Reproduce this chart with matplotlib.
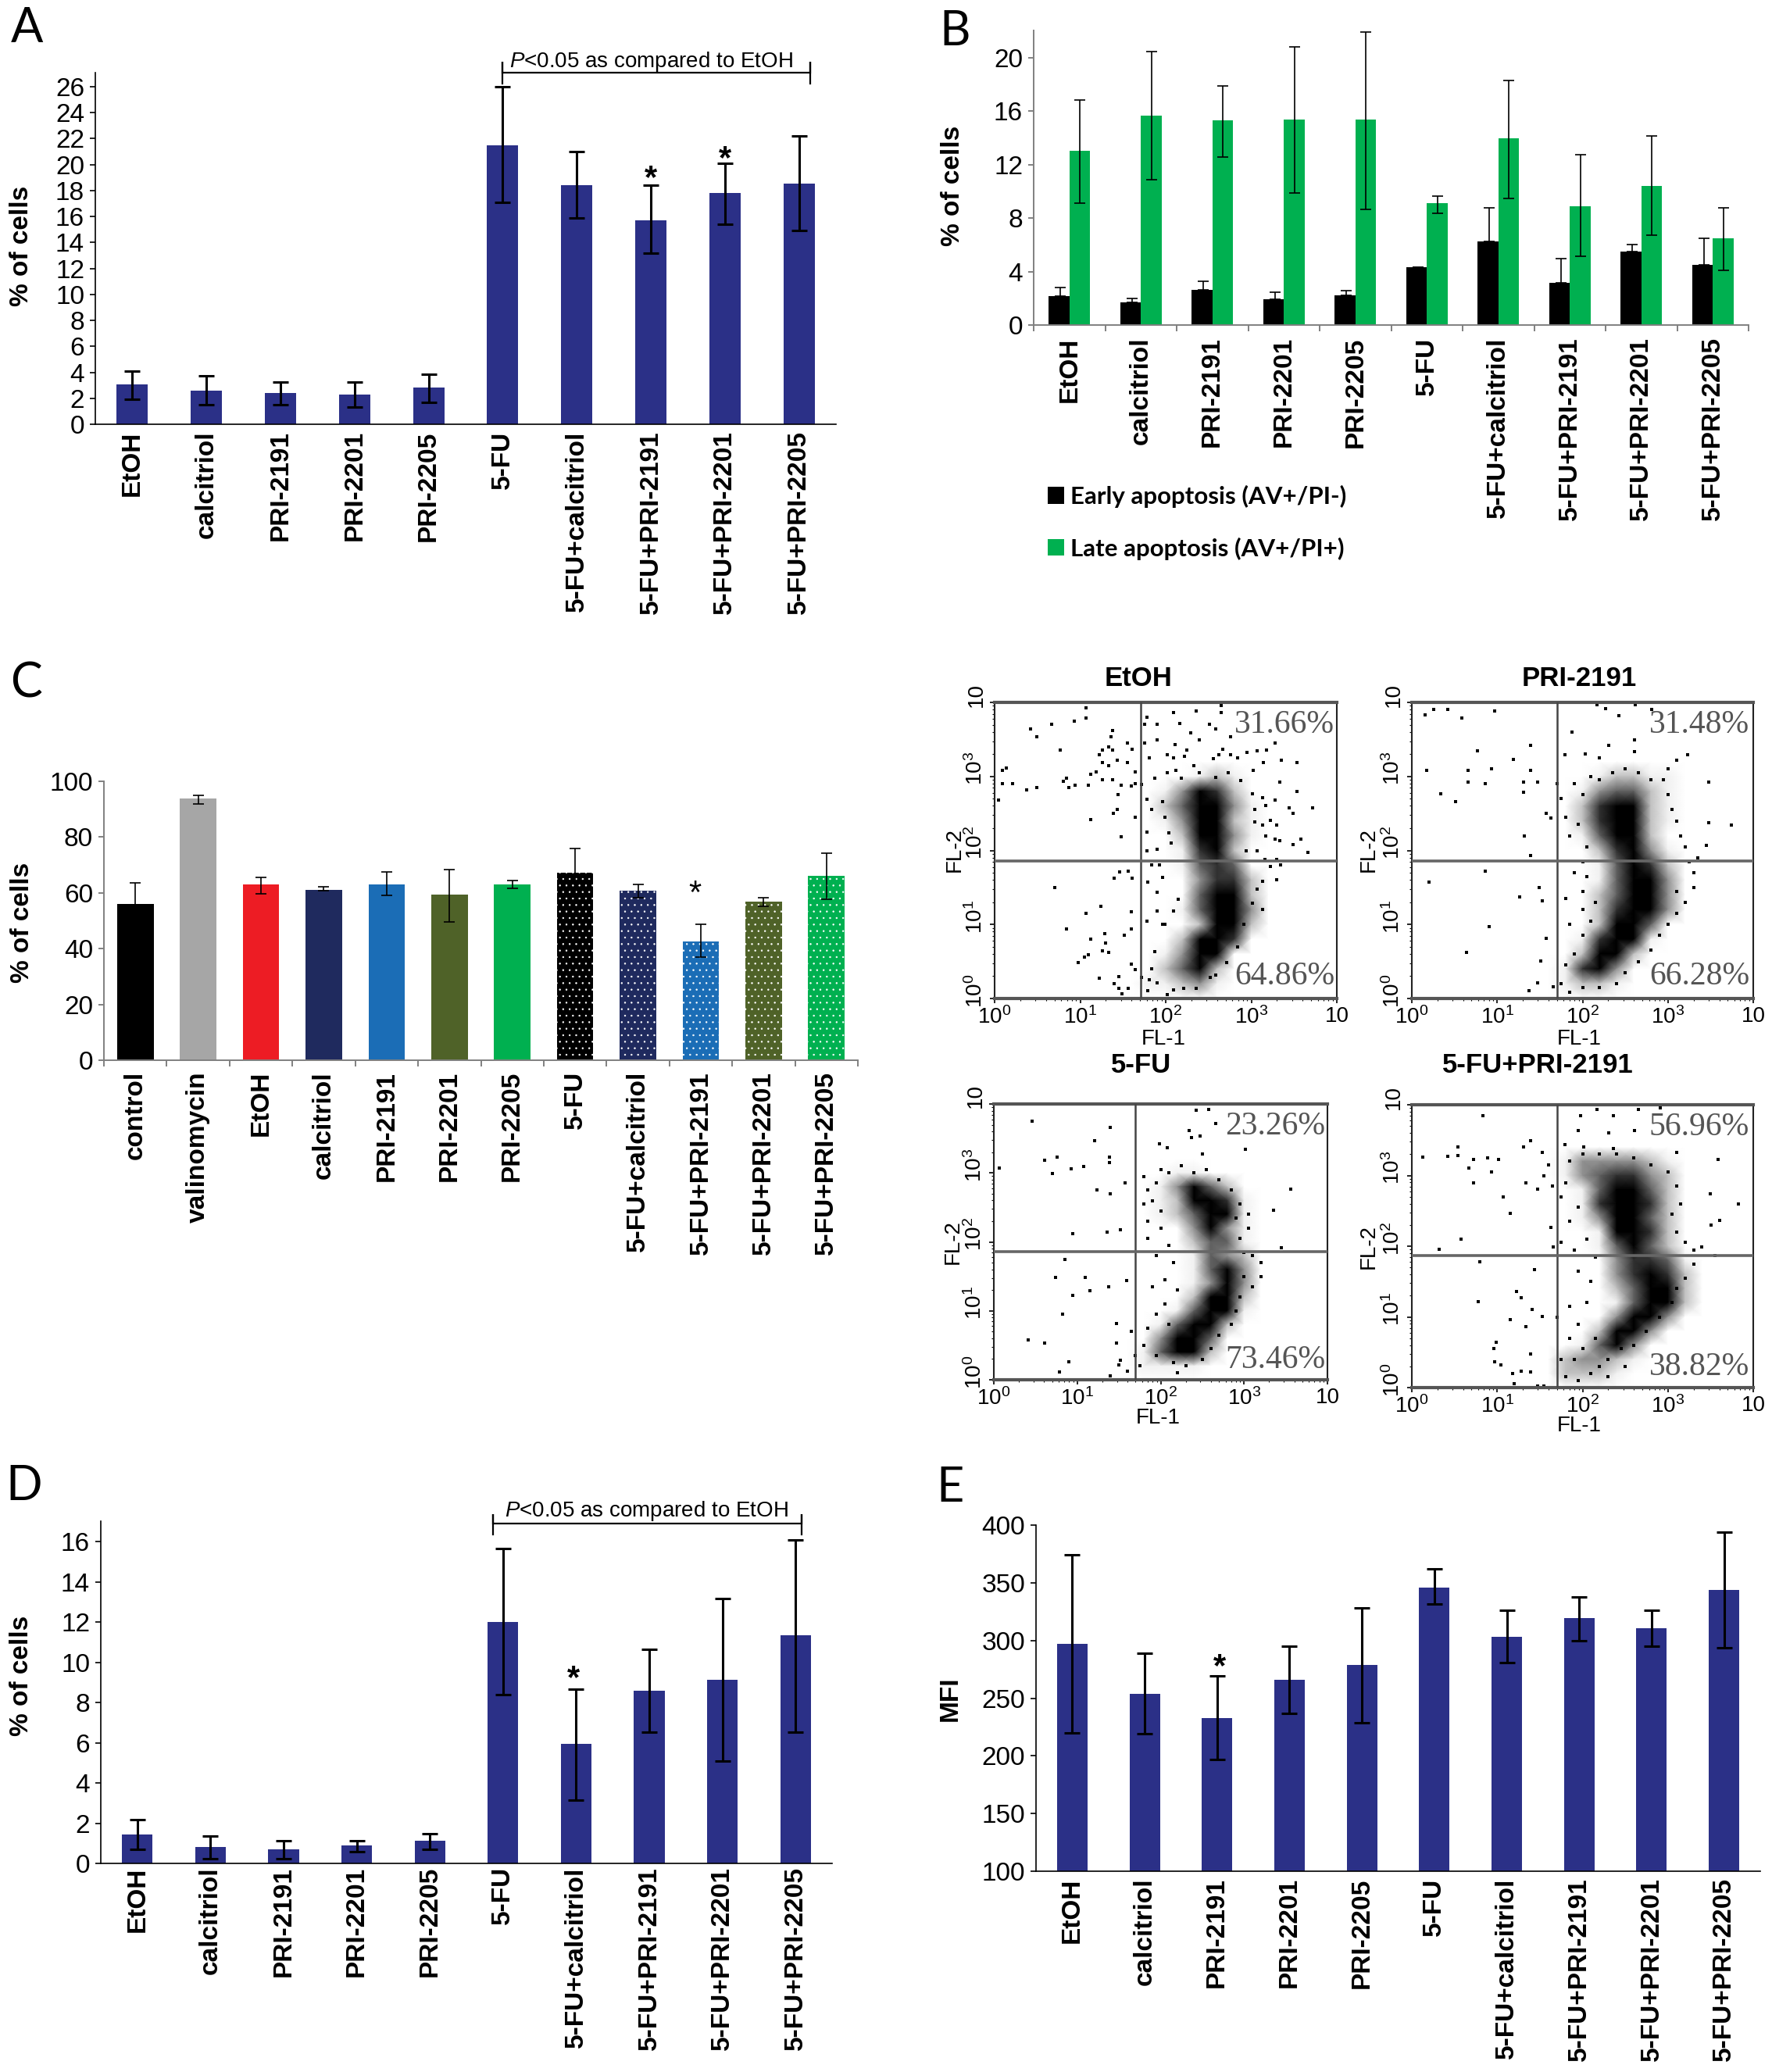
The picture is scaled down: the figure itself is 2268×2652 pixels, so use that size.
#!/usr/bin/env python3
"""Multi panel figure: apoptosis and cell cycle bars plus four FL-1/FL-2 dot plots."""

import numpy as np
import matplotlib
matplotlib.use("Agg")
import matplotlib.pyplot as plt
from matplotlib.colors import Normalize
from matplotlib.ticker import FixedLocator, LogLocator, NullFormatter
from matplotlib.transforms import ScaledTranslation

W, H = 2268, 2652
BLUE = "#2B3087"

plt.rcParams["font.family"] = ["Liberation Sans", "DejaVu Sans"]
plt.rcParams["mathtext.fontset"] = "custom"
plt.rcParams["mathtext.rm"] = "Liberation Sans"
plt.rcParams["mathtext.it"] = "Liberation Sans:italic"
plt.rcParams["mathtext.bf"] = "Liberation Sans:bold"
plt.rcParams["hatch.linewidth"] = 0.5

labels_10 = ["EtOH", "calcitriol", "PRI-2191", "PRI-2201", "PRI-2205", "5-FU",
             "5-FU+calcitriol", "5-FU+PRI-2191", "5-FU+PRI-2201", "5-FU+PRI-2205"]
labels_c = ["control", "valinomycin"] + labels_10

# panel A
a_vals = [3.05, 2.6, 2.4, 2.3, 2.85, 21.5, 18.4, 15.7, 17.8, 18.5]
a_top = [4.07, 3.7, 3.25, 3.25, 3.85, 26.0, 21.0, 18.4, 20.1, 22.2]
a_bot = [1.9, 1.5, 1.5, 1.3, 1.7, 17.1, 15.9, 13.15, 15.4, 14.9]

# panel B
b_early = [2.15, 1.7, 2.65, 1.95, 2.2, 4.3, 6.25, 3.15, 5.5, 4.5]
b_early_top = [2.83, 2.0, 3.3, 2.45, 2.6, 4.35, 8.8, 5.0, 6.0, 6.5]
b_late = [13.05, 15.7, 15.3, 15.4, 15.4, 9.15, 14.0, 8.9, 10.4, 6.5]
b_late_top = [16.85, 20.45, 17.9, 20.85, 21.95, 9.65, 18.3, 12.75, 14.15, 8.8]
b_late_bot = [9.1, 10.9, 12.6, 9.9, 8.65, 8.35, 9.5, 5.15, 6.75, 4.1]

# panel C
c_vals = [56, 93.7, 62.9, 61.1, 63.1, 59.4, 63.1, 67.3, 60.7, 42.7, 57, 66.1]
c_top = [63.7, 94.9, 65.6, 62.1, 67.6, 68.4, 64.4, 76, 63.1, 48.7, 58.3, 74.1]
c_bot = [48.3, 92, 59.6, 60.7, 59, 49.6, 61.6, 58.6, 58.4, 36.9, 55.3, 57.7]
c_colors = ["black", "#A6A6A6", "#ED1C24", "#1F2A5E", "#1B6DB6", "#4F6228", "#00B050",
            "black", "#1F2A5E", "#1B6DB6", "#4F6228", "#00B050"]
c_dotted = [False] * 7 + [True] * 5

# panel D
d_vals = [1.45, 0.83, 0.7, 0.9, 1.12, 12.0, 5.94, 8.58, 9.15, 11.33]
d_top = [2.17, 1.35, 1.12, 1.12, 1.48, 15.65, 8.65, 10.65, 13.17, 16.1]
d_bot = [0.7, 0.25, 0.25, 0.6, 0.7, 8.38, 3.15, 6.54, 5.08, 6.54]

# panel E
e_vals = [297, 254, 232.5, 266, 279, 346, 303, 319.5, 310.4, 344]
e_top = [374, 289, 269, 295, 328.5, 362, 326, 337.5, 326, 393.6]
e_bot = [220, 219, 197, 236.6, 228.5, 331.5, 281, 299.7, 295, 294]

# dot plots: darkness (0-9) read off the dense regions, top row is log10 FL-2 = 3.6,
# rows step 0.2 down to 0, columns are log10 FL-1 = 1.4 to 3.4 in steps of 0.2
density_x = [1.4, 1.6, 1.8, 2.0, 2.2, 2.4, 2.6, 2.8, 3.0, 3.2, 3.4]
density_y = [3.6, 3.4, 3.2, 3.0, 2.8, 2.6, 2.4, 2.2, 2.0, 1.8, 1.6, 1.4, 1.2, 1.0, 0.8, 0.6, 0.4, 0.2, 0.0]

etoh_density = ["00000000000", "00000000000", "00000000000", "00000121000", "00013652000",
                "00024873100", "00013882100", "00002673100", "00001562000", "00001454000",
                "00000355200", "00000466200", "00001488300", "00000298200", "00002895000",
                "00013970000", "00024820000", "00112310000", "00000000000"]
pri_density = ["00000000000", "00000000000", "00000000000", "00001221100", "00013442100",
               "00025862100", "00025972100", "00014862000", "00002563100", "00001465200",
               "00001466300", "00002466300", "00002587300", "00002794000", "00015971000",
               "00028820000", "00156300000", "00122100000", "00000000000"]
fu_density = ["00000000000", "00000000000", "00000000000", "00001100000", "00013642000",
              "00012665100", "00012476100", "00000363100", "00000244100", "00000143200",
              "00000146300", "00000138300", "00000269200", "00001498100", "00014992000",
              "00039940000", "00146620000", "00111100000", "00000000000"]
fupri_density = ["00000000000", "00000000000", "00133332100", "00134553200", "00014884200",
                 "00015985200", "00013984200", "00001785200", "00001464200", "00000355410",
                 "00000357520", "00000247720", "00000148620", "00000397300", "00002893000",
                 "00014630000", "00233210000", "00222100000", "00000000000"]

# single events outside the dense regions, (log10 FL-1, log10 FL-2)
etoh_events = [
    (.42, 3.64), (.49, 3.54), (.67, 3.70), (.93, 3.75), (1.07, 3.79), (1.07, 3.93), (.77, 3.36), (.09, 3.08),
    (.14, 3.11), (.09, 2.9), (.21, 2.9), (.37, 2.82), (.49, 2.85), (.05, 2.68), (.8, 2.93), (.84, 2.98),
    (.87, 2.85), (.94, 2.88), (1.1, 2.88), (1.12, 3.03), (1.19, 3.06), (1.22, 3.29), (1.26, 3.36), (1.33, 3.4),
    (1.38, 3.36), (1.36, 3.54), (1.38, 3.62), (1.55, 3.45), (1.61, 3.37), (1.26, 3.19), (1.33, 3.14), (1.43, 3.22),
    (1.55, 3.19), (1.26, 2.96), (1.38, 2.96), (1.48, 2.88), (1.64, 3.06), (1.64, 2.9), (1.43, 2.55), (1.39, 2.5),
    (1.12, 2.42), (1.64, 2.45), (1.48, 2.18), (.7, 1.5), (1.46, 1.71), (1.4, 1.63), (1.56, 1.72), (1.61, 1.63),
    (1.24, 1.25), (1.07, 1.15), (1.6, 1.17), (.84, .94), (1.29, .88), (1.12, .8), (1.52, .86), (1.6, .94),
    (1.3, .75), (1.26, .64), (1.33, .62), (1.1, .59), (1.05, .56), (.98, .49), (1.22, .27), (1.45, .3),
    (1.4, .2), (1.45, .14), (1.49, .06), (1.56, .14), (1.64, .39), (1.6, .46), (1.78, 1.04), (3.44, 2.58),
    (3.49, 2.5), (3.72, 2.58), (3.58, 2.15), (3.49, 2.08), (3.66, 1.97), (3.53, 3.19), (3.53, 2.8), (3.28, 2.68),
    (3.33, 2.92), (3.35, 3.22), (3.28, 3.45), (3.07, 3.35), (2.95, 3.32), (3.18, 3.36), (2.36, 3.88), (2.65, 3.96),
    (2.65, 3.86), (2.09, 3.86), (2.16, 3.72), (2.51, 3.7), (2.58, 3.64), (2.29, 3.59), (2.39, 3.49), (2.76, 3.54),
    (1.9, 3.49), (1.75, 3.45), (1.9, 3.7), (1.78, 3.8), (1.75, 3.7), (2.11, 3.43), (2.25, 3.36), (2.02, 3.29),
    (2.67, 3.37), (2.76, 3.29), (2.62, 3.29), (1.81, 3.25), (2.09, 3.25), (2.22, 3.27), (2.56, 3.24), (2.84, 3.25),
    (3.02, 3.08), (3.14, 3.19),
]
pri_events = [
    (.16, 3.83), (.26, 3.91), (.42, 3.9), (.59, 3.79), (.97, 3.88), (.77, 3.35), (1.39, 3.42), (1.19, 3.23),
    (.66, 3.08), (.17, 3.08), (.93, 3.1), (.66, 2.92), (.86, 2.9), (.34, 2.76), (.51, 2.66), (1.39, 3.08),
    (1.31, 2.92), (1.47, 2.92), (1.31, 2.79), (1.57, 2.5), (1.63, 2.44), (1.32, 2.2), (1.39, 1.93), (.86, 1.72),
    (.2, 1.57), (1.26, 1.37), (1.49, 1.5), (1.53, 1.32), (.91, .97), (.64, .62), (1.57, .81), (1.51, .51),
    (1.47, .21), (1.37, .11), (1.66, .16), (3.74, 2.34), (3.48, 2.37), (3.45, 2.07), (3.48, 2.92), (3.23, 3.29),
    (2.61, 3.49), (2.31, 3.42), (1.88, 3.6), (2.43, 3.82), (2.81, 3.9), (2.17, 3.97), (2.27, 3.92), (2.62, 3.97),
    (2.03, 3.3), (2.2, 3.25), (1.79, 3.29), (2.61, 3.34), (3.1, 3.22),
]
fu_events = [
    (.46, 3.75), (1.4, 3.66), (1.21, 3.47), (.61, 3.18), (.76, 3.23), (.7, 2.99), (.07, 3.07), (1.08, 3.09),
    (.93, 3.06), (1.39, 3.23), (1.39, 3.15), (1.24, 2.75), (1.4, 2.7), (1.57, 2.85), (.95, 2.12), (1.36, 2.14),
    (1.52, 2.18), (.85, 1.74), (.74, 1.49), (1.1, 1.49), (1.59, 1.44), (1.38, 1.35), (1.15, 1.29), (.95, 1.22),
    (.82, .95), (1.47, .82), (.41, .58), (.61, .53), (1.47, .53), (.9, .26), (.79, .11), (1.4, .06),
    (1.52, .28), (1.65, .7), (1.6, .13), (1.5, .21), (3.56, 2.77), (3.35, 2.46), (3.45, 1.91), (3.02, 3.34),
    (2.34, 3.62), (2.47, 3.53), (2.66, 3.72), (2.37, 3.51), (2.58, 3.92), (2.43, 3.91), (1.99, 3.42), (2.08, 3.36),
    (2.5, 3.28),
]
fupri_events = [
    (.83, 3.84), (.54, 3.4), (.13, 3.26), (.42, 3.27), (.54, 3.28), (.72, 3.23), (.89, 3.25), (1.02, 3.23),
    (.67, 3.11), (.93, 3.05), (.72, 2.89), (1.07, 2.7), (1.15, 2.46), (.58, 2.1), (.32, 1.96), (1.31, 3.4),
    (1.39, 3.49), (1.53, 3.33), (1.34, 2.9), (1.47, 2.81), (1.66, 1.99), (1.63, 2.26), (.8, 1.78), (.78, 1.21),
    (1.23, 1.36), (1.28, 1.27), (1.44, 1.67), (1.15, .96), (1.34, .86), (1.41, 1.1), (1.53, 1.01), (.99, .64),
    (.96, .55), (.97, .37), (1.04, .32), (1.18, .2), (1.28, .23), (1.39, .22), (1.39, .48), (1.2, .06),
    (1.47, .02), (1.55, .02), (3.83, 2.6), (3.61, 2.36), (3.51, 2.3), (3.5, 2.74), (3.59, 3.23), (3.4, 1.99),
    (3.55, 1.87), (3.1, 3.33), (2.61, 3.64), (2.31, 3.6), (1.95, 3.64), (1.98, 3.84), (2.36, 3.84), (2.17, 3.93),
    (2.65, 3.93), (2.91, 3.96), (1.79, 3.44), (2.01, 3.4), (2.36, 3.38),
]

# events along the rim of the dense regions
etoh_rim = [
    (1.78, 2.69), (1.87, 2.98), (1.96, 2.66), (2.02, 3.05), (2.12, 3.08), (2.18, 2.98), (2.33, 3.15), (2.39, 3.05),
    (2.58, 2.99), (2.73, 3.05), (2.88, 2.94), (3.01, 2.76), (3.13, 2.71), (3.17, 2.61), (3.04, 2.55), (3.13, 2.34),
    (3.22, 2.41), (3.3, 2.34), (3.17, 2.2), (3.04, 2.38), (3.28, 2.15), (3.33, 2.13), (3.07, 1.99), (2.94, 1.99),
    (3.16, 1.88), (3.3, 1.88), (3.34, 1.81), (3.22, 1.78), (3.3, 1.6), (3.13, 1.58), (3.07, 1.48), (3.13, 1.2),
    (3.01, 1.29), (2.91, 1.0), (2.84, .7), (2.71, .49), (2.58, .32), (2.52, .28), (2.36, .14), (2.21, .14),
    (2.09, .12), (2.02, .05), (1.9, .21), (1.81, .25), (1.72, .28), (1.79, .11), (1.84, .4), (1.87, .63),
    (1.96, 1.0), (1.99, 1.0), (1.9, 1.18), (2.09, 1.18), (2.15, 1.34), (1.9, 1.44), (1.96, 1.64), (1.79, 1.57),
    (1.84, 1.81), (1.93, 1.81), (1.78, 1.99), (1.9, 2.02), (2.06, 2.1), (2.04, 2.24), (1.78, 2.25), (1.99, 2.45),
    (1.84, 2.55), (1.72, 2.89), (1.6, 2.87), (1.44, 2.75),
]
pri_rim = [
    (1.9, 2.9), (2.0, 2.75), (2.1, 3.0), (2.2, 2.95), (2.35, 3.05), (2.5, 3.1), (2.65, 3.05), (2.8, 2.95),
    (2.95, 2.95), (3.0, 2.75), (3.05, 2.55), (3.1, 2.4), (3.15, 2.2), (3.2, 2.05), (3.25, 1.85), (3.3, 1.7),
    (3.3, 1.5), (3.2, 1.3), (3.1, 1.45), (3.1, 1.15), (3.0, 1.0), (2.9, .85), (2.8, .65), (2.65, .5),
    (2.5, .35), (2.4, .2), (2.2, .15), (2.0, .15), (1.85, .08), (1.75, .2), (1.8, .45), (1.9, .6),
    (2.0, .85), (2.1, 1.05), (2.15, 1.3), (2.0, 1.2), (2.0, 1.45), (2.05, 1.65), (2.0, 1.85), (1.9, 1.7),
    (2.05, 2.05), (1.85, 2.2), (1.95, 2.35), (1.8, 2.45), (1.75, 2.7), (1.7, 2.9), (3.0, 3.1), (3.35, 1.9),
    (1.8, 1.35), (1.85, 1.0),
]
fu_rim = [
    (1.8, 2.95), (1.85, 2.75), (1.95, 2.85), (2.0, 3.05), (2.1, 3.0), (2.25, 3.1), (2.4, 3.0), (2.55, 3.05),
    (2.7, 2.9), (2.85, 2.75), (2.95, 2.55), (2.9, 2.35), (3.05, 2.4), (3.05, 2.2), (2.95, 2.05), (3.0, 1.85),
    (3.1, 1.8), (3.2, 1.7), (3.2, 1.5), (3.1, 1.35), (3.0, 1.5), (2.95, 1.2), (2.9, 1.0), (2.85, .8),
    (2.7, .65), (2.6, .45), (2.5, .3), (2.3, .2), (2.15, .25), (1.95, .35), (1.8, .5), (1.85, .75),
    (1.95, .95), (2.05, 1.1), (2.1, .8), (2.2, 1.3), (2.05, 1.45), (1.9, 1.35), (2.15, 1.7), (1.95, 1.8),
    (2.1, 1.95), (1.85, 2.05), (2.0, 2.2), (1.85, 2.3), (2.0, 2.45), (1.8, 2.55), (1.9, 2.6), (1.7, .35),
    (2.2, .1), (1.75, .2),
]
fupri_rim = [
    (1.6, 3.15), (1.55, 3.0), (1.65, 2.85), (1.75, 2.7), (1.85, 3.2), (2.0, 3.3), (2.2, 3.3), (2.4, 3.3),
    (2.6, 3.25), (2.8, 3.15), (3.0, 3.05), (3.1, 2.85), (3.15, 2.6), (3.05, 2.45), (3.1, 2.2), (3.2, 2.05),
    (3.3, 1.95), (3.3, 1.75), (3.2, 1.55), (3.1, 1.4), (3.05, 1.2), (2.9, 1.0), (2.75, .8), (2.6, .6),
    (2.45, .55), (2.3, .4), (2.2, .3), (2.1, .2), (1.95, .1), (1.8, .15), (1.75, .4), (1.85, .7),
    (1.95, .9), (2.05, 1.2), (1.85, 1.15), (2.1, 1.5), (1.95, 1.65), (2.15, 1.85), (1.9, 1.95), (2.05, 2.1),
    (1.85, 2.35), (1.95, 2.55), (1.8, 2.9), (1.75, 2.05), (1.7, 1.0), (2.3, .15), (2.5, .3), (1.9, .4),
    (2.0, .55), (2.15, .7),
]


def add_axes(fig, left, right, top, bottom):
    return fig.add_axes([left / W, 1 - bottom / H, (right - left) / W, (bottom - top) / H])


def put(fig, x, y, s, **kw):
    kw.setdefault("ha", "center")
    kw.setdefault("va", "center")
    return fig.text(x / W, 1 - y / H, s, **kw)


def err(vals, top, bot):
    v = np.array(vals)
    return [v - np.array(bot), np.array(top) - v]


def style_bar_axes(ax, labels, ylim, yticks, color="black", lw=1.2, pad=6, edges=False):
    n = len(labels)
    ax.set_xlim(-0.5, n - 0.5)
    ax.set_ylim(*ylim)
    ax.set_yticks(yticks)
    ax.spines[["top", "right"]].set_visible(False)
    ax.spines[["left", "bottom"]].set_color(color)
    ax.spines[["left", "bottom"]].set_linewidth(lw)
    ax.tick_params(axis="y", labelsize=24, length=5, width=lw, color=color, pad=5)
    if edges:
        ax.set_xticks(np.arange(n + 1) - 0.5)
        ax.set_xticklabels([])
        ax.tick_params(axis="x", which="major", length=6, width=lw, color=color)
    else:
        ax.set_xticks([])
    ax.set_xticks(range(n), labels, minor=True, rotation=90, fontweight="bold", fontsize=24)
    ax.tick_params(axis="x", which="minor", length=0, pad=pad)


def simple_panel(ax, labels, vals, top, bot, ylim, yticks, width=0.42, pad=6):
    ax.bar(range(len(vals)), vals, width, color=BLUE, bottom=0)
    ax.errorbar(range(len(vals)), vals, yerr=err(vals, top, bot), fmt="none", ecolor="black",
                elinewidth=2.2, capsize=7, capthick=2.2)
    style_bar_axes(ax, labels, ylim, yticks, pad=pad)


def bracket(ax, x0, x1, y, y_lo, y_hi, text_x, text_y):
    ax.plot([x0, x0, x0, x1, x1, x1], [y_lo, y_hi, y, y, y_hi, y_lo], color="black", lw=1.6,
            clip_on=False, solid_joinstyle="miter")
    ax.text(text_x, text_y, r"$\mathit{P}$<0.05 as compared to EtOH", ha="center", va="center",
            fontsize=20, clip_on=False)


def dot_plot(fig, box, density, events, rim, gate_x, gate_y, title, title_xy, pct_hi, pct_lo, pct_y, pct_right,
             fl1_xy, fl2_xy):
    ax = add_axes(fig, *box)
    ax.set_xscale("log")
    ax.set_yscale("log")
    ax.set_xlim(1, 1e4)
    ax.set_ylim(1, 1e4)

    grid = np.array([[int(c) for c in row] for row in density], dtype=float)
    ax.pcolormesh(10.0 ** np.array(density_x), 10.0 ** np.array(density_y), grid, shading="gouraud",
                  cmap="gray_r", norm=Normalize(0.7, 6.0), zorder=1, rasterized=True)
    ev = np.array(events + rim).T
    ax.plot(10.0 ** ev[0], 10.0 ** ev[1], ls="none", marker="s", ms=2.6, mew=0, color="black", zorder=2)

    ax.axvline(10.0 ** gate_x, color="#444444", lw=1.8, zorder=3)
    ax.axhline(10.0 ** gate_y, color="#666666", lw=2.6, zorder=3)

    ax.spines[["left", "right"]].set_linewidth(1.5)
    ax.spines[["left", "right"]].set_color("#222222")
    ax.spines[["top", "bottom"]].set_linewidth(3)
    ax.spines[["top", "bottom"]].set_color("#555555")

    major = [1, 10, 100, 1000, 10000]
    names = ["$10^{0}$", "$10^{1}$", "$10^{2}$", "$10^{3}$", "10"]
    for axis in (ax.xaxis, ax.yaxis):
        axis.set_major_locator(FixedLocator(major))
        axis.set_minor_locator(LogLocator(base=10, subs=range(2, 10), numticks=10))
        axis.set_minor_formatter(NullFormatter())
    ax.set_xticklabels(names)
    ax.set_yticklabels(names)
    ax.tick_params(which="major", length=4, width=1.2, labelsize=20, pad=3)
    ax.tick_params(which="minor", length=2, width=0.8)
    for lab in ax.get_yticklabels():
        lab.set_rotation(90)
        lab.set_va("center")
        lab.set_transform(lab.get_transform() + ScaledTranslation(0, 0.1, fig.dpi_scale_trans))

    put(fig, *title_xy, title, fontsize=25, fontweight="bold")
    serif = dict(family="Liberation Serif", fontsize=30, color="#555555", ha="right")
    put(fig, pct_right, pct_y[0], pct_hi, **serif)
    put(fig, pct_right, pct_y[1], pct_lo, **serif)
    put(fig, *fl1_xy, "FL-1", fontsize=20)
    put(fig, *fl2_xy, "FL-2", fontsize=20, rotation=90)


def main():
    fig = plt.figure(figsize=(W / 100, H / 100), dpi=100, facecolor="white")

    # A
    ax = add_axes(fig, 122, 1070, 93, 543)
    simple_panel(ax, labels_10, a_vals, a_top, a_bot, (0, 27.07), range(0, 27, 2), pad=6)
    bracket(ax, 5.0, 9.15, 27.04, 26.2, 27.9, 7.0, 27.93)
    ax.text(7, 18.9, "*", ha="center", va="center", fontsize=30, fontweight="bold", clip_on=False)
    ax.text(8, 20.4, "*", ha="center", va="center", fontsize=30, fontweight="bold", clip_on=False)
    put(fig, 28, 315, "% of cells", fontsize=24, fontweight="bold", rotation=90)
    put(fig, 35, 37, "A", family="Lato", fontsize=44)

    # B
    ax = add_axes(fig, 1323, 2238, 39, 416)
    x = np.arange(10)
    bw = 0.29
    early = ax.bar(x - bw / 2, b_early, bw, color="black", label="Early apoptosis (AV+/PI-)")
    late = ax.bar(x + bw / 2, b_late, bw, color="#00B050", label="Late apoptosis (AV+/PI+)")
    ax.errorbar(x - bw / 2 + 0.02, b_early, yerr=[np.zeros(10), np.array(b_early_top) - np.array(b_early)],
                fmt="none", ecolor="black", elinewidth=1.2, capsize=5, capthick=1.2)
    ax.errorbar(x + bw / 2, b_late, yerr=err(b_late, b_late_top, b_late_bot), fmt="none", ecolor="black",
                elinewidth=1.2, capsize=5, capthick=1.2)
    style_bar_axes(ax, labels_10, (0, 22.05), [0, 4, 8, 12, 16, 20], color="#808080", lw=1.4, pad=11, edges=True)
    ax.legend(handles=[early, late], loc="upper left", bbox_to_anchor=(1341 / W, 1 - 621 / H),
              bbox_transform=fig.transFigure, frameon=False, handlelength=0.68, handleheight=0.68,
              handletextpad=0.25, labelspacing=1.2, borderpad=0, borderaxespad=0,
              prop=dict(family="Lato", weight="bold", size=22.5))
    put(fig, 1220, 238, "% of cells", fontsize=24, fontweight="bold", rotation=90)
    put(fig, 1222, 40, "B", family="Lato", fontsize=44)

    # C
    ax = add_axes(fig, 133, 1098, 1000, 1357)
    for i, (v, c, dotted) in enumerate(zip(c_vals, c_colors, c_dotted)):
        if dotted:
            ax.bar(i, v, 0.58, color=c, edgecolor="white", linewidth=0, hatch="..")
        else:
            ax.bar(i, v, 0.58, color=c)
    ax.errorbar(range(12), c_vals, yerr=err(c_vals, c_top, c_bot), fmt="none", ecolor="black",
                elinewidth=1.2, capsize=5, capthick=1.2)
    style_bar_axes(ax, labels_c, (0, 100), range(0, 101, 20), color="#808080", lw=1.4, pad=10, edges=True)
    ax.text(8.9, 59.5, "*", ha="center", va="center", fontsize=30)
    put(fig, 29, 1181, "% of cells", fontsize=24, fontweight="bold", rotation=90)
    put(fig, 33, 875, "C", family="Lato", fontsize=44)

    # dot plots
    dot_plot(fig, (1273, 1711, 899, 1278), etoh_density, etoh_events, etoh_rim, 1.71, 1.856, "EtOH", (1457, 869),
             "31.66%", "64.86%", (928, 1250), 1708, (1489, 1330), (1222, 1088))
    dot_plot(fig, (1807, 2244, 899, 1278), pri_density, pri_events, pri_rim, 1.70, 1.856, "PRI-2191", (2021, 869),
             "31.48%", "66.28%", (928, 1250), 2239, (2021, 1330), (1752, 1088))
    dot_plot(fig, (1272, 1699, 1413, 1766), fu_density, fu_events, fu_rim, 1.70, 1.857, "5-FU", (1461, 1364),
             "23.26%", "73.46%", (1442, 1741), 1696, (1482, 1815), (1220, 1590))
    dot_plot(fig, (1807, 2244, 1414, 1776), fupri_density, fupri_events, fupri_rim, 1.70, 1.864, "5-FU+PRI-2191",
             (1968, 1364), "56.96%", "38.82%", (1443, 1750), 2239, (2021, 1825), (1752, 1596))

    # D
    ax = add_axes(fig, 129, 1065, 1947, 2385)
    simple_panel(ax, labels_10, d_vals, d_top, d_bot, (0, 17.02), range(0, 17, 2), pad=3)
    bracket(ax, 4.86, 9.08, 16.9, 16.35, 17.37, 6.96, 17.54)
    ax.text(5.96, 9.15, "*", ha="center", va="center", fontsize=30, fontweight="bold", clip_on=False)
    put(fig, 28, 2145, "% of cells", fontsize=24, fontweight="bold", rotation=90)
    put(fig, 31, 1902, "D", family="Lato", fontsize=44)

    # E
    ax = add_axes(fig, 1326, 2253, 1952, 2395)
    simple_panel(ax, labels_10, e_vals, e_top, e_bot, (100, 400), range(100, 401, 50), pad=6)
    ax.text(2.03, 277, "*", ha="center", va="center", fontsize=30, fontweight="bold", clip_on=False)
    put(fig, 1216, 2174, "MFI", fontsize=24, fontweight="bold", rotation=90)
    put(fig, 1216, 1904, "E", family="Lato", fontsize=44)

    fig.savefig("out.png", dpi=100, facecolor="white")


if __name__ == "__main__":
    main()
